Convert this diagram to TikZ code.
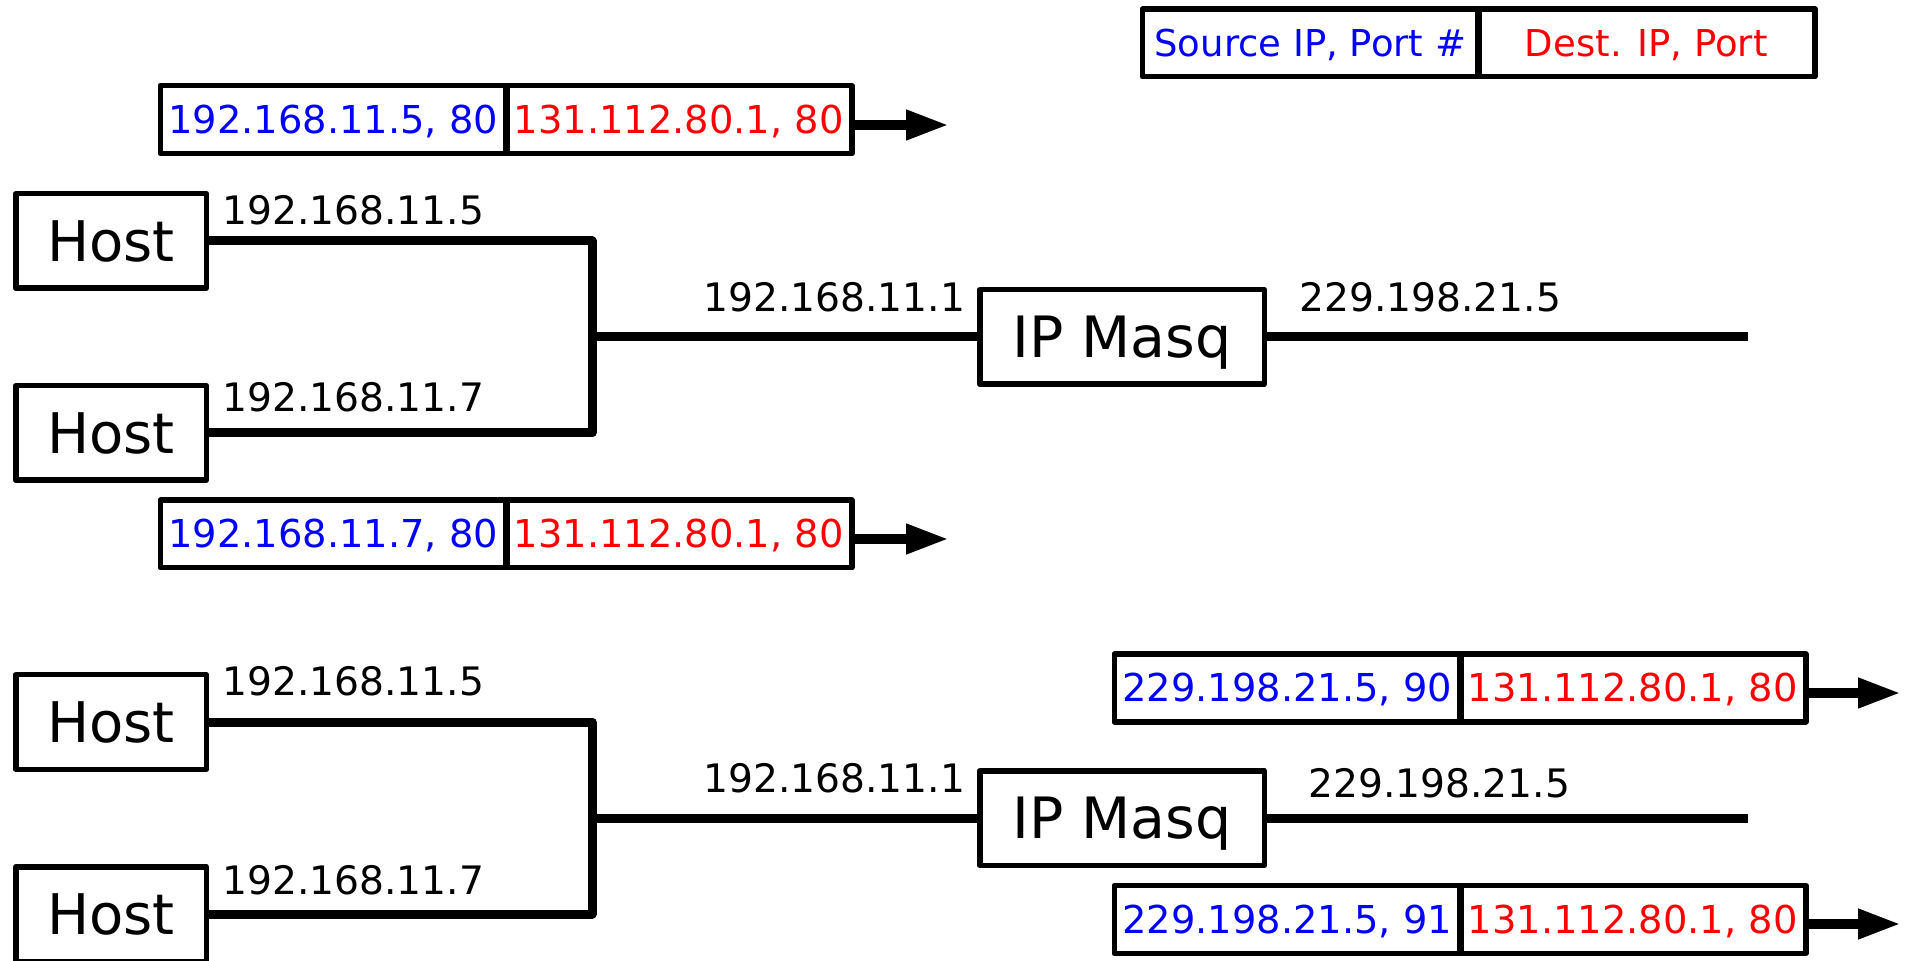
\documentclass[tikz,border=0pt]{standalone}
\usepackage{fontspec}
\setmainfont{DejaVu Sans}
\usetikzlibrary{arrows.meta}
\definecolor{srcblue}{RGB}{0,0,255}
\definecolor{dstred}{RGB}{255,0,0}
\tikzset{
  hostbox/.style={draw, line width=2.75pt, line join=round, inner sep=0pt,
    minimum width=95.25pt, minimum height=47.25pt,
    font=\fontsize{28}{28}\selectfont, text height=20.4pt, text depth=0pt},
  masqbox/.style={hostbox, minimum width=142.25pt,
    font=\fontsize{28.5}{28.5}\selectfont, text height=20.8pt},
  wire/.style={line width=4.5pt, line join=round},
  addr/.style={inner sep=0pt, anchor=base west,
    font=\fontsize{19.6}{19.6}\selectfont},
  pcell/.style={inner sep=0pt, minimum width=172.75pt, minimum height=33.5pt,
    text height=14pt, text depth=0pt,
    font=\fontsize{19.2}{19.2}\selectfont},
  psrc/.style={pcell, text=srcblue},
  pdst/.style={pcell, text=dstred},
  lcell/.style={pcell, font=\fontsize{18.5}{18.5}\selectfont, text height=13.5pt},
  pktframe/.style={line width=2.6pt, line join=round},
  pktdivider/.style={line width=3.25pt},
  flow/.style={line width=5pt, -{Triangle[length=21.5pt, width=14pt]}},
}
\begin{document}
\begin{tikzpicture}[x=0.5pt, y=-0.5pt]
\useasboundingbox (0,0) rectangle (1905,961);
\clip (0,0) rectangle (1905,961);

% ---------- legend ----------
\node[lcell, text=srcblue, minimum width=167.75pt] (ls) at (1310.25,43) {Source IP, Port \#};
\node[lcell, text=dstred, minimum width=168.25pt] (ld) at (1646.25,43) {Dest. IP, Port};
\draw[pktframe] (ls.north west) rectangle (ld.south east);
\draw[pktdivider] (ls.north east) -- (ls.south east);

% ---------- upper network ----------
\node[hostbox] (h1) at (111,241) {Host};
\node[hostbox] (h2) at (111,433) {Host};
\node[masqbox] (m1) at (1122,337) {IP Masq};
\coordinate (b1) at (592,337);
\coordinate (e1) at (1748,337);
\draw[wire] (h1.east) -| (b1);
\draw[wire] (h2.east) -| (b1);
\draw[wire] (b1) -- (m1.west);
\draw[wire] (m1.east) -- (e1);

\node[addr] (a1) at (222,225) {192.168.11.5};
\node[addr] (a2) at (222,412) {192.168.11.7};
\node[addr] (a3) at (703,312) {192.168.11.1};
\node[addr] (a4) at (1299,312) {229.198.21.5};

% packet from the first host
\node[psrc] (p1s) at (333.25,119.5) {192.168.11.5, 80};
\node[pdst] (p1d) at (678.75,119.5) {131.112.80.1, 80};
\draw[pktframe] (p1s.north west) rectangle (p1d.south east);
\draw[pktdivider] (p1s.north east) -- (p1s.south east);
\coordinate (t1) at (949,125);
\draw[flow] (p1d.east |- t1) -- (t1);

% packet from the second host
\node[psrc] (p2s) at (333.25,534) {192.168.11.7, 80};
\node[pdst] (p2d) at (678.75,534) {131.112.80.1, 80};
\draw[pktframe] (p2s.north west) rectangle (p2d.south east);
\draw[pktdivider] (p2s.north east) -- (p2s.south east);
\coordinate (t2) at (949,539);
\draw[flow] (p2d.east |- t2) -- (t2);

% ---------- lower network ----------
\node[hostbox] (h3) at (111,722) {Host};
\node[hostbox] (h4) at (111,914) {Host};
\node[masqbox] (m2) at (1122,818) {IP Masq};
\coordinate (b2) at (592,818);
\coordinate (e2) at (1748,818);
\draw[wire] (h3.east) -| (b2);
\draw[wire] (h4.east) -| (b2);
\draw[wire] (b2) -- (m2.west);
\draw[wire] (m2.east) -- (e2);

\node[addr] (a5) at (222,696) {192.168.11.5};
\node[addr] (a6) at (222,894) {192.168.11.7};
\node[addr] (a7) at (703,792) {192.168.11.1};
\node[addr] (a8) at (1308,797) {229.198.21.5};

% translated packets leaving the masquerading router
\node[psrc] (p3s) at (1287.25,688) {229.198.21.5, 90};
\node[pdst] (p3d) at (1632.75,688) {131.112.80.1, 80};
\draw[pktframe] (p3s.north west) rectangle (p3d.south east);
\draw[pktdivider] (p3s.north east) -- (p3s.south east);
\coordinate (t3) at (1901,693);
\draw[flow] (p3d.east |- t3) -- (t3);

\node[psrc] (p4s) at (1287.25,919.5) {229.198.21.5, 91};
\node[pdst] (p4d) at (1632.75,919.5) {131.112.80.1, 80};
\draw[pktframe] (p4s.north west) rectangle (p4d.south east);
\draw[pktdivider] (p4s.north east) -- (p4s.south east);
\coordinate (t4) at (1901,924);
\draw[flow] (p4d.east |- t4) -- (t4);
\end{tikzpicture}
\end{document}
